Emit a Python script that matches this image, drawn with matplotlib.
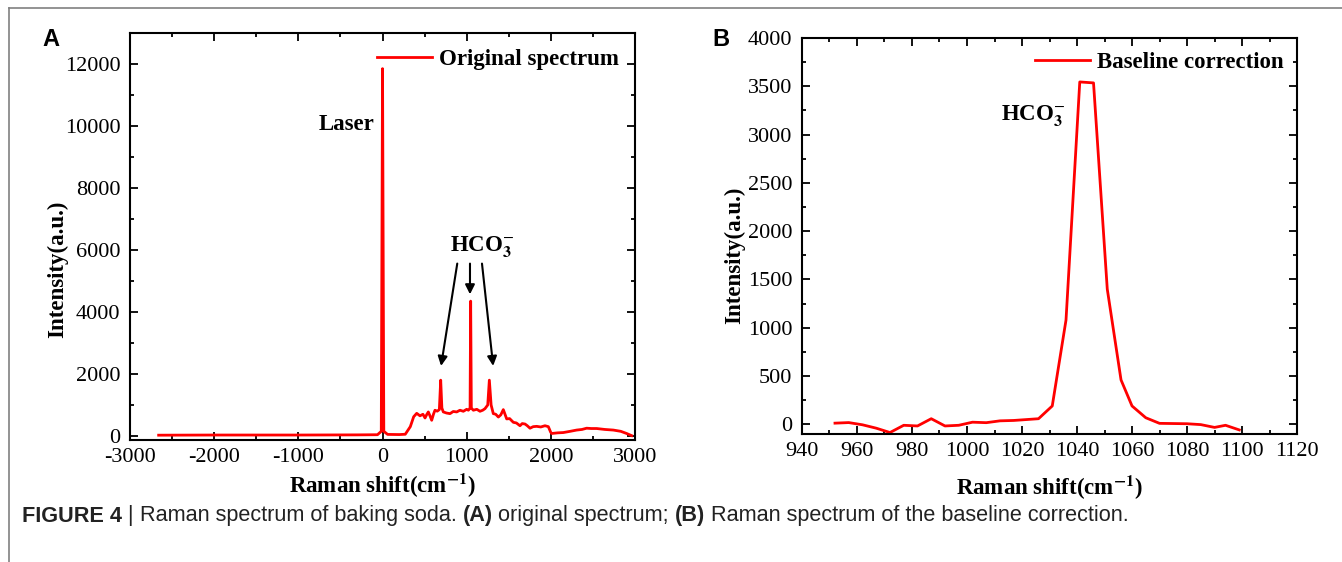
import numpy as np
import matplotlib
matplotlib.use('Agg')
import matplotlib.pyplot as plt
from matplotlib.lines import Line2D
from matplotlib.ticker import MultipleLocator

plt.rcParams['font.family'] = 'Liberation Serif'
plt.rcParams['mathtext.fontset'] = 'stix'
plt.rcParams['axes.unicode_minus'] = False

# --- panel A: original spectrum ---
a_shift = [-2660, -2000, -1000, -300, -60, -15, 0, 15, 60, 200, 270, 330, 370, 406,
           445, 480, 505, 525, 544, 565, 584, 605, 623, 650, 675, 691, 705, 722, 760,
           802, 840, 881, 920, 960, 1000, 1020, 1040, 1047, 1055, 1079, 1120, 1158,
           1190, 1217, 1250, 1269, 1290, 1316, 1345, 1376, 1405, 1435, 1455, 1475,
           1510, 1554, 1590, 1633, 1660, 1693, 1720, 1752, 1790, 1831, 1880, 1930,
           1970, 1998, 2009, 2080, 2148, 2230, 2306, 2370, 2425, 2480, 2544, 2640,
           2742, 2830, 2900, 2960]
a_int = [25, 30, 30, 35, 40, 150, 11850, 150, 50, 45, 55, 300, 620, 730,
         650, 700, 580, 690, 775, 640, 506, 700, 830, 800, 850, 1800, 900, 775, 740,
         720, 790, 775, 830, 796, 860, 830, 900, 4350, 900, 830, 860, 796,
         830, 880, 1000, 1800, 1000, 720, 700, 610, 680, 850, 700, 550,
         560, 440, 420, 330, 400, 385, 330, 250, 300, 310, 290, 330,
         300, 120, 80, 100, 110, 150, 190, 210, 250, 240, 240, 210,
         190, 150, 80, 10]

# --- panel B: baseline corrected ---
b_shift = [952, 957, 962, 967, 972, 977, 982, 987, 992, 997, 1002, 1007, 1012, 1017,
           1022, 1026, 1031, 1036, 1041, 1046, 1051, 1056, 1060, 1065, 1070, 1075,
           1080, 1085, 1090, 1094, 1099]
b_int = [12, 18, -5, -40, -85, -10, -17, 58, -17, -10, 22, 17, 36, 40,
         50, 58, 190, 1080, 3545, 3535, 1400, 460, 190, 68, 10, 8,
         6, -3, -32, -10, -58]

red = '#ff0000'
fig = plt.figure(figsize=(13.42, 5.62), dpi=100)

def style_ax(ax):
    ax.tick_params(which='both', direction='in', top=True, right=True, labelsize=16, width=1.3)
    ax.tick_params(which='major', length=6)
    ax.tick_params(which='minor', length=3)
    ax.tick_params(axis='y', pad=7)
    ax.tick_params(axis='x', pad=6)
    for s in ax.spines.values():
        s.set_linewidth(1.5)

axA = fig.add_axes([0.0969, 0.2171, 0.3763, 0.7242])
axA.plot(a_shift, a_int, color=red, lw=2, label='Original spectrum')
axA.set_xlim(-3000, 3000)
axA.set_ylim(-130, 13000)
axA.xaxis.set_major_locator(MultipleLocator(1000))
axA.xaxis.set_minor_locator(MultipleLocator(500))
axA.yaxis.set_major_locator(MultipleLocator(2000))
axA.yaxis.set_minor_locator(MultipleLocator(1000))
style_ax(axA)
axA.set_xlabel('Raman shift(cm$^{\\mathbf{-1}}$)', fontsize=16.5, fontweight='bold', labelpad=3)
axA.set_ylabel('Intensity(a.u.)', fontsize=16.5, fontweight='bold')
axA.yaxis.set_label_coords(-0.123, 0.42)
axA.legend(loc='upper right', frameon=False, prop={'weight': 'bold', 'size': 16.5},
           handlelength=2.4, handletextpad=0.3, borderaxespad=0.3)
axA.text(-430, 10050, 'Laser', fontsize=16.5, fontweight='bold', ha='center', va='center')
axA.text(1182, 6125, 'HCO$_\\mathbf{3}^{-}$', fontsize=16.5, fontweight='bold', ha='center', va='center')
for x0, x1, y1 in [(893, 690, 2170), (1039, 1039, 4480), (1178, 1318, 2170)]:
    axA.annotate('', xy=(x1, y1), xytext=(x0, 5650),
                 arrowprops=dict(arrowstyle='-|>', color='black', lw=1.5, mutation_scale=14))

axB = fig.add_axes([0.5976, 0.2278, 0.3689, 0.7046])
axB.plot(b_shift, b_int, color=red, lw=2, label='Baseline correction')
axB.set_xlim(940, 1120)
axB.set_ylim(-100, 4000)
axB.xaxis.set_major_locator(MultipleLocator(20))
axB.xaxis.set_minor_locator(MultipleLocator(10))
axB.yaxis.set_major_locator(MultipleLocator(500))
axB.yaxis.set_minor_locator(MultipleLocator(250))
style_ax(axB)
axB.set_xlabel('Raman shift(cm$^{\\mathbf{-1}}$)', fontsize=16.5, fontweight='bold', labelpad=9)
axB.set_ylabel('Intensity(a.u.)', fontsize=16.5, fontweight='bold')
axB.yaxis.set_label_coords(-0.114, 0.45)
axB.legend(loc='upper right', frameon=False, prop={'weight': 'bold', 'size': 16.5},
           handlelength=2.4, handletextpad=0.3, borderaxespad=0.2)
axB.text(1024, 3200, 'HCO$_\\mathbf{3}^{-}$', fontsize=16.5, fontweight='bold', ha='center', va='center')

# panel letters
fig.text(42 / 1342, 1 - 40 / 562, 'A', family='Liberation Sans', fontsize=17, fontweight='bold', va='center')
fig.text(712 / 1342, 1 - 40 / 562, 'B', family='Liberation Sans', fontsize=17, fontweight='bold', va='center')

# frame lines
fig.add_artist(Line2D([9 / 1342, 1], [1 - 8 / 562, 1 - 8 / 562], color='#808080', lw=1.2))
fig.add_artist(Line2D([9 / 1342, 9 / 1342], [0, 1 - 8 / 562], color='#808080', lw=1.2))

# caption made of pieces
pieces = [('FIGURE 4', 'bold'), (' | ', 'normal'), ('Raman spectrum of baking soda. ', 'normal'),
          ('(A)', 'bold'), (' original spectrum; ', 'normal'), ('(B)', 'bold'),
          (' Raman spectrum of the baseline correction.', 'normal')]
renderer = fig.canvas.get_renderer()
xpos = 22
for txt, wt in pieces:
    t = fig.text(xpos / 1342, 1 - 516 / 562, txt, family='Liberation Sans', fontsize=15.6,
                 fontweight=wt, va='center', color='#222222')
    bb = t.get_window_extent(renderer=renderer)
    xpos += bb.width

fig.savefig('out.png', dpi=100)
